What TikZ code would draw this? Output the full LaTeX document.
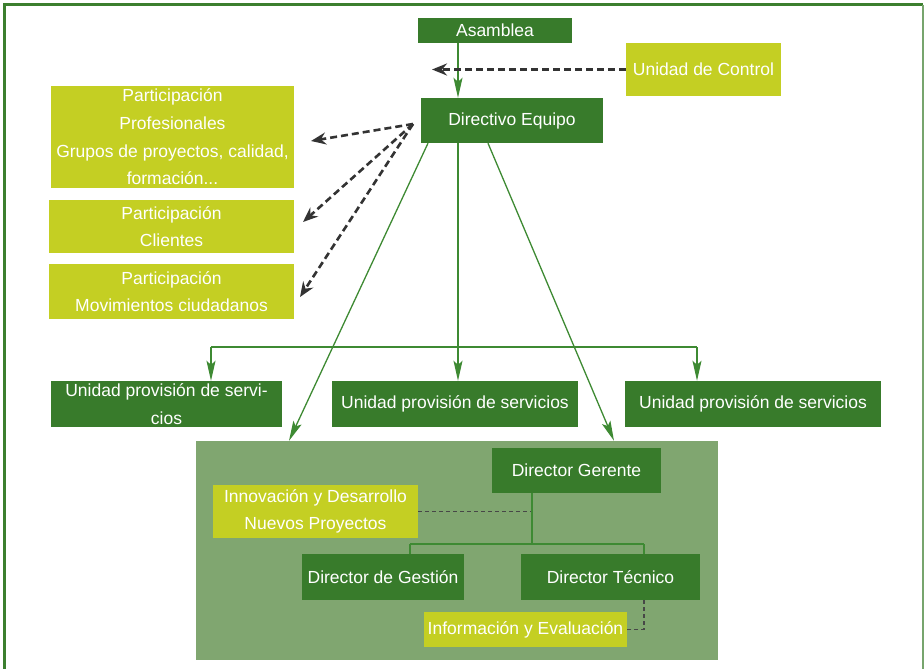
\documentclass[tikz,border=0pt]{standalone}
\usepackage{fontspec}
\setmainfont{Liberation Sans}
\usetikzlibrary{arrows.meta,calc}
\definecolor{dgreen}{HTML}{387B2B}
\definecolor{ygreen}{HTML}{C4CF23}
\definecolor{pgreen}{HTML}{80A670}
\definecolor{lgreen}{HTML}{3E8A33}
\definecolor{bgreen}{HTML}{3C7F2F}
\definecolor{dgray}{HTML}{333333}
\begin{document}
\begin{tikzpicture}[x=1pt,y=-1pt,
  box/.style={rectangle,inner sep=0pt,text=white,align=center,
    font=\fontsize{17.5}{27.7}\selectfont},
  dbox/.style={box,fill=dgreen},
  ybox/.style={box,fill=ygreen},
  gline/.style={draw=lgreen,line width=1.3pt},
  garrow/.style={gline,-{Stealth[length=20pt,width=9pt,inset=4pt]}},
  darrow/.style={draw=dgray,line width=2.6pt,dash pattern=on 7pt off 4pt,
    -{Stealth[length=15pt,width=12pt,inset=5pt]}},
  thindash/.style={draw=dgray!90,line width=1.2pt,dash pattern=on 4pt off 3pt}]
\useasboundingbox (0,0) rectangle (924,669);
% outer frame
\draw[bgreen,line width=3pt] (4.5,669) -- (4.5,5) -- (923,5);
\draw[bgreen!70,line width=1.5pt] (923,5) -- (923,669);

% panel
\node[rectangle,fill=pgreen,minimum width=522pt,minimum height=219pt,inner sep=0pt] (panel) at (457,550.5) {};

% top boxes
\node[dbox,minimum width=154pt,minimum height=25pt] (asamblea) at (495,30.5) {Asamblea};
\node[ybox,minimum width=155pt,minimum height=53pt] (control) at (703.5,69.5) {Unidad de Control};
\node[dbox,minimum width=182pt,minimum height=45pt] (directivo) at (512,120.5) {Directivo Equipo};

\node[ybox,minimum width=243pt,minimum height=102pt] (part1) at (172.5,137) {Participación\\Profesionales\\Grupos de proyectos, calidad,\\formación...};
\node[ybox,minimum width=245pt,minimum height=53pt] (part2) at (171.5,226.5) {Participación\\Clientes};
\node[ybox,minimum width=245pt,minimum height=55pt] (part3) at (171.5,291.5) {Participación\\Movimientos ciudadanos};

\node[dbox,minimum width=231pt,minimum height=46pt] (prov1) at (166.5,404) {Unidad provisión de servi-\\cios};
\node[dbox,minimum width=246pt,minimum height=46pt] (prov2) at (455,404) {Unidad provisión de servicios};
\node[dbox,minimum width=256pt,minimum height=46pt] (prov3) at (753,404) {Unidad provisión de servicios};

% panel content
\node[dbox,minimum width=169pt,minimum height=45pt] (gerente) at (576.5,470.5) {Director Gerente};
\node[ybox,minimum width=205pt,minimum height=53pt] (innov) at (315.5,511.5) {Innovación y Desarrollo\\Nuevos Proyectos};
\node[dbox,minimum width=162pt,minimum height=46pt] (gestion) at (383,577) {Director de Gestión};
\node[dbox,minimum width=179pt,minimum height=46pt] (tecnico) at (610.5,577) {Director Técnico};
\node[ybox,minimum width=203pt,minimum height=35pt] (info) at (525.5,629.5) {Información y Evaluación};

% coordinates
\coordinate (vx) at (458,0);
\coordinate (lx) at (428,0);
\coordinate (rx) at (488,0);
\coordinate (ctip) at (432,69.5);
\coordinate (ds) at (413,124);
\coordinate (d1) at (311,141);
\coordinate (d2) at (303,222);
\coordinate (d3) at (300,297);
\coordinate (pl) at (289,0);
\coordinate (pr) at (614,0);
\coordinate (hl) at (211,347);
\coordinate (hr) at (697,347);
\coordinate (gx) at (532,0);
\coordinate (gy) at (0,544);
\coordinate (gl) at (410,544);
\coordinate (gr) at (644,544);
\coordinate (tx) at (644,629.5);

% connectors
\draw[garrow] (asamblea.south -| vx) -- (directivo.north -| vx);
\draw[darrow] (control.west) -- (ctip);
\draw[darrow] (ds) -- (d1);
\draw[darrow] (ds) -- (d2);
\draw[darrow] (ds) -- (d3);

\draw[garrow] (directivo.south -| lx) -- (panel.north -| pl);
\draw[garrow] (directivo.south -| rx) -- (panel.north -| pr);
\draw[garrow] (directivo.south -| vx) -- (prov2.north -| vx);
\draw[gline] (hl) -- (hr);
\draw[garrow] (hl) -- (prov1.north -| hl);
\draw[garrow] (hr) -- (prov3.north -| hr);

\draw[thindash] (innov.east) -- (innov.east -| gx);
\draw[draw=lgreen,line width=2pt] (gerente.south -| gx) -- (gy -| gx);
\draw[gline] (gl) -- (gr);
\draw[gline] (gl) -- (gestion.north -| gl);
\draw[gline] (gr) -- (tecnico.north -| gr);
\draw[thindash] (tecnico.south -| tx) -- (tx) -- (info.east);
\end{tikzpicture}
\end{document}
